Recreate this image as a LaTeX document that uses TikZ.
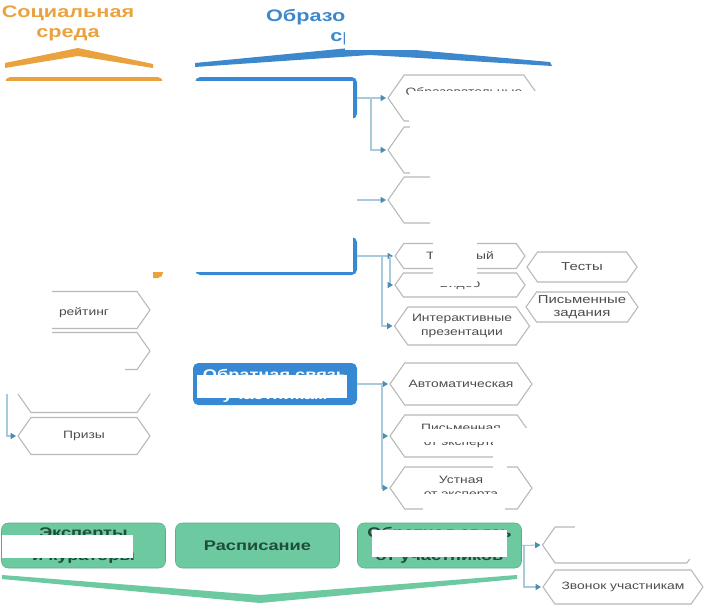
\documentclass[tikz,border=0pt]{standalone}
\usepackage{fontspec}
\setmainfont{Liberation Sans}[FakeStretch=1.3]
\usetikzlibrary{shapes.symbols,arrows.meta}

\definecolor{socorange}{HTML}{E9A23E}
\definecolor{edublue}{HTML}{3D88CC}
\definecolor{boxblue}{HTML}{3689D2}
\definecolor{mint}{HTML}{6DC9A0}
\definecolor{darkmint}{HTML}{1F4D3A}
\definecolor{hexgray}{HTML}{B8B8B8}
\definecolor{hextext}{HTML}{4D4D4D}
\definecolor{linkblue}{HTML}{A9C9DD}
\definecolor{tipblue}{HTML}{4A8DB2}

\begin{document}
\begin{tikzpicture}[x=0.75pt,y=-0.75pt,
    title/.style={font=\bfseries\fontsize{12.5}{15}\selectfont, align=center},
    hex/.style={signal, signal to=east and west, signal pointer angle=110,
        draw=hexgray, line width=0.8pt, fill=white, inner sep=1pt, align=center,
        text=hextext, font=\fontsize{8}{10}\selectfont},
    bigbox/.style={rectangle, rounded corners=4pt, inner sep=0pt},
    greenbox/.style={rectangle, rounded corners=5pt, fill=mint, draw=mint!85!black,
        minimum width=123pt, minimum height=33.75pt, align=center, text=darkmint,
        font=\bfseries\fontsize{10.5}{17}\selectfont},
    conn/.style={draw=linkblue, line width=0.8pt,
        -{Triangle[length=4pt,width=4.5pt,color=tipblue]}, shorten >=1pt},
    wipe/.style={fill=white}]
    \useasboundingbox (0,0) rectangle (704,607);

    % titles and chevrons
    \node[title, text=socorange] (soct) at (68,23) {Социальная\\среда};
    \node[title, text=edublue] (edut) at (362,27) {Образовательная\\среда};
    \fill[socorange] (5,63)--(78,48)--(153,64)--(153,68)--(78,56)--(5,68)--cycle;
    \fill[edublue] (195,63)--(370,46)--(550,62)--(552,66)--(370,55)--(195,67)--cycle;
    \fill[mint] (2,575)--(260,595)--(517,575)--(517,579)--(260,603)--(2,579)--cycle;

    % big boxes
    \node[bigbox, fill=socorange, minimum width=118.5pt, minimum height=150.75pt] (soc) at (84,177.5) {};
    \node[bigbox, fill=boxblue, minimum width=121.5pt, minimum height=31.5pt] (box1) at (276,98) {};
    \node[bigbox, fill=boxblue, minimum width=121.5pt, minimum height=28.5pt] (box3) at (276,256) {};
    \node[bigbox, fill=boxblue, minimum width=123pt, minimum height=31.5pt] (fb) at (275,384) {};
    \node[align=center, text=white, font=\bfseries\fontsize{10.5}{15}\selectfont] (fbl) at (275,386) {Обратная связь\\участникам};

    % green row
    \node[greenbox] (g1) at (83.5,545.5) {Эксперты\\и кураторы};
    \node[greenbox] (g2) at (257.5,545.5) {Расписание};
    \node[greenbox] (g3) at (439.5,545.5) {Обратная связь\\от участников};

    % left column
    \node[hex, minimum width=99pt, minimum height=27.75pt] (lh1) at (84,310) {\mbox{}\\рейтинг};
    \node[hex, minimum width=99pt, minimum height=27.75pt] (lh2) at (84,351) {};
    \node[hex, minimum width=99pt, minimum height=27.75pt] (lh3) at (84,394) {};
    \node[hex, minimum width=99pt, minimum height=27.75pt] (pr) at (84,436) {Призы};

    % right columns
    \node[hex, minimum width=114pt, minimum height=34.5pt] (a1) at (464,98) {Образовательные\\\mbox{}};
    \node[hex, minimum width=114pt, minimum height=34.5pt] (a2) at (464,150) {};
    \node[hex, minimum width=114pt, minimum height=34.5pt] (a3) at (464,200) {};
    \node[hex, minimum width=97.5pt, minimum height=18.75pt] (tx) at (460,256) {Текстовый};
    \node[hex, minimum width=97.5pt, minimum height=18pt] (vd) at (460,285) {Видео};
    \node[hex, minimum width=101.25pt, minimum height=28.5pt] (ip) at (462,326) {Интерактивные\\презентации};
    \node[hex, minimum width=82.5pt, minimum height=22.5pt, font=\fontsize{8.6}{10}\selectfont] (ts) at (582,267) {Тесты};
    \node[hex, minimum width=82.5pt, minimum height=22.5pt, font=\fontsize{8.6}{10}\selectfont] (wz) at (582,307) {Письменные\\задания};
    \node[hex, minimum width=106.5pt, minimum height=31.5pt] (au) at (461,384) {Автоматическая};
    \node[hex, minimum width=106.5pt, minimum height=31.5pt] (pe) at (461,436) {Письменная\\от эксперта};
    \node[hex, minimum width=106.5pt, minimum height=31.5pt] (ue) at (461,488) {Устная\\от эксперта};
    \node[hex, minimum width=117.75pt, minimum height=27pt] (ha) at (621,545) {};
    \node[hex, minimum width=120pt, minimum height=25.5pt] (zv) at (623,587) {Звонок участникам};

    % connectors
    \coordinate (ja) at (371,98);
    \coordinate (jb) at (357,200);
    \coordinate (jc1) at (382,256);
    \coordinate (jc2) at (390,256);
    \coordinate (jd) at (382,384);
    \coordinate (je) at (524,545);
    \coordinate (jf) at (7,278);
    \draw[conn] (box1.east) -- (a1.west);
    \draw[conn] (ja) |- (a2.west);
    \draw[conn] (jb) -- (a3.west);
    \draw[conn] (box3.east) -- (tx.west);
    \draw[conn] (jc2) |- (vd.west);
    \draw[conn] (jc1) |- (ip.west);
    \draw[conn] (fb.east) -- (au.west);
    \draw[conn] (jd) |- (pe.west);
    \draw[conn] (jd) |- (ue.west);
    \draw[conn] (g3.east) -- (ha.west);
    \draw[conn] (je) |- (zv.west);
    \draw[conn] (jf) |- (pr.west);

    % white patches over the picture
    \fill[wipe] (345,0) rectangle (704,50);
    \fill[wipe] (0,81) rectangle (353,272);
    \fill[wipe] (0,272) rectangle (153,290);
    \fill[wipe] (409,91) rectangle (704,125);
    \fill[wipe] (410,125) rectangle (704,176);
    \fill[wipe] (430,176) rectangle (704,240);
    \fill[wipe] (433,240) rectangle (477,286);
    \fill[wipe] (0,282) rectangle (52,372);
    \fill[wipe] (52,356) rectangle (125,372);
    \fill[wipe] (0,372) rectangle (150,394);
    \fill[wipe] (197,375) rectangle (347,398);
    \fill[wipe] (493,428) rectangle (507,470);
    \fill[wipe] (507,428) rectangle (704,465);
    \fill[wipe] (410,429) rectangle (493,442);
    \fill[wipe] (423,494) rectangle (505,520);
    \fill[wipe] (2,535) rectangle (133,558);
    \fill[wipe] (372,530) rectangle (507,557);
    \fill[wipe] (575,515) rectangle (704,559);
\end{tikzpicture}
\end{document}
